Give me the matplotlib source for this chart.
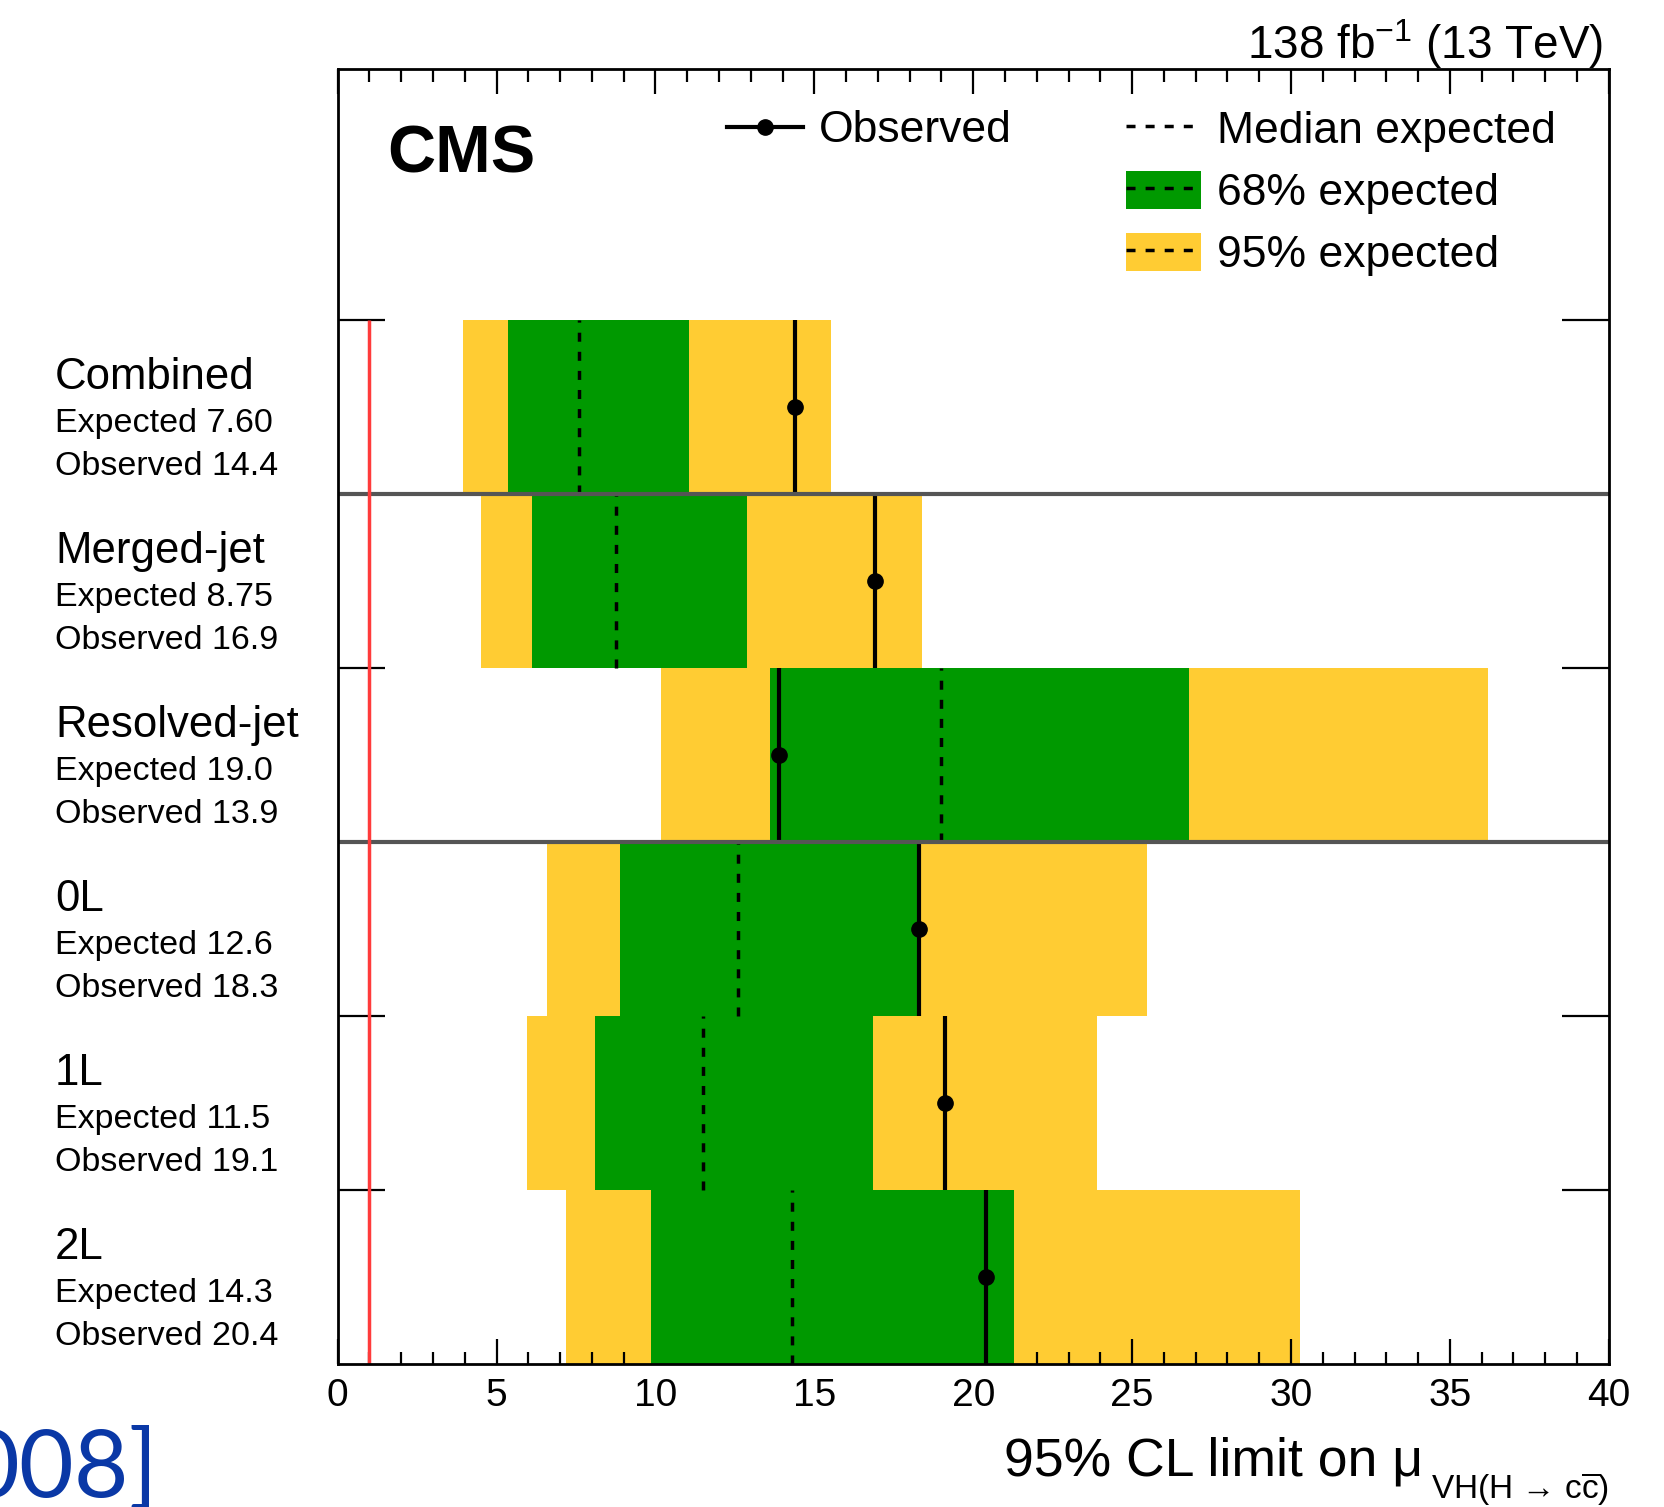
import matplotlib
matplotlib.use("Agg")
import matplotlib.pyplot as plt
from matplotlib.lines import Line2D
from matplotlib.patches import Patch
from matplotlib.ticker import MultipleLocator
from matplotlib.transforms import blended_transform_factory

plt.rcParams["font.family"] = ["Liberation Sans", "DejaVu Sans"]
plt.rcParams["mathtext.fontset"] = "custom"
plt.rcParams["mathtext.rm"] = "Liberation Sans"
plt.rcParams["mathtext.it"] = "Liberation Sans:italic"

# channels, top to bottom
channels = ["Combined", "Merged-jet", "Resolved-jet", "0L", "1L", "2L"]
expected = [7.60, 8.75, 19.0, 12.6, 11.5, 14.3]
observed = [14.4, 16.9, 13.9, 18.3, 19.1, 20.4]
lo95 = [3.94, 4.51, 10.16, 6.58, 5.95, 7.18]
lo68 = [5.35, 6.12, 13.60, 8.89, 8.09, 9.86]
hi68 = [11.06, 12.87, 26.8, 18.28, 16.84, 21.29]
hi95 = [15.54, 18.38, 36.2, 25.46, 23.9, 30.28]
separators = [5, 3]

GREEN = "#009900"
YELLOW = "#ffcc33"
dash = (0, (2.6, 2.9))


def fmt(v):
    return f"{v:.2f}" if v < 10 else f"{v:.1f}"


fig = plt.figure(figsize=(16.65, 15.07), dpi=100)
ax = fig.add_axes([0.2028, 0.0946, 0.7634, 0.8596])
tf = blended_transform_factory(fig.transFigure, ax.transData)

n = len(channels)
for i, name in enumerate(channels):
    y0 = n - 1 - i
    yc = y0 + 0.5
    ax.barh(yc, hi95[i] - lo95[i], left=lo95[i], height=1.0, color=YELLOW, lw=0, zorder=1)
    ax.barh(yc, hi68[i] - lo68[i], left=lo68[i], height=1.0, color=GREEN, lw=0, zorder=2)
    ax.vlines(expected[i], y0, y0 + 1, colors="k", linestyles=dash, lw=2.5, zorder=3)
    ax.vlines(observed[i], y0, y0 + 1, colors="k", lw=3, zorder=4)
    ax.plot(observed[i], yc, "o", color="k", ms=11, zorder=5)

    fig.text(0.033, y0 + 1 - 0.33, name, transform=tf, fontsize=31.5, va="center")
    fig.text(0.033, y0 + 1 - 0.59, f"Expected {fmt(expected[i])}", transform=tf,
             fontsize=24.5, va="center")
    fig.text(0.033, y0 + 1 - 0.84, f"Observed {fmt(observed[i])}", transform=tf,
             fontsize=24.5, va="center")

for s in separators:
    ax.axhline(s, color="#555555", lw=3, zorder=6)

ax.vlines(1, 0, n, colors="#ff3b3b", lw=2.5, zorder=7)

ax.set_xlim(0, 40)
ax.set_ylim(0, 7.445)
ax.xaxis.set_major_locator(MultipleLocator(5))
ax.xaxis.set_minor_locator(MultipleLocator(1))
ax.set_yticks(range(1, n + 1))
ax.set_yticklabels([])
ax.tick_params(axis="x", which="major", direction="in", top=True, length=18, width=1.6,
               labelsize=28, pad=10)
ax.tick_params(axis="x", which="minor", direction="in", top=True, length=9, width=1.6)
ax.tick_params(axis="y", which="major", direction="in", right=True, length=34, width=1.6)
for sp in ax.spines.values():
    sp.set_linewidth(2)
    sp.set_zorder(10)

ax.text(0.039, 0.933, "CMS", transform=ax.transAxes, fontsize=48, fontweight="bold",
        va="center", ha="left")
ax.text(0.996, 1.008, r"138 fb$^{\mathregular{-1}}$ (13 TeV)", transform=ax.transAxes,
        fontsize=33, ha="right", va="baseline")

# x axis title, with the subscript set a little lower
fig.text(0.8547, 0.0206, "95% CL limit on μ", fontsize=38.5, ha="right", va="baseline")
fig.text(0.9663, 0.0053, r"VH(H → c$\overline{\mathrm{c}}$)", fontsize=24,
         ha="right", va="baseline")

fig.text(0.0946, 0.0065, "008]", fontsize=68, color="#0a38a6", ha="right", va="baseline",
         family=["Lato", "DejaVu Sans"])

obs_handle = Line2D([], [], color="k", lw=3, marker="o", ms=11)
med_handle = Line2D([], [], color="k", lw=2.5, linestyle=dash)
leg1 = ax.legend([obs_handle], ["Observed"], loc="upper left", bbox_to_anchor=(0.3063, 0.968),
                 frameon=False, fontsize=32, handlelength=1.7, handletextpad=0.36,
                 borderpad=0, borderaxespad=0)
ax.add_artist(leg1)
ax.legend([med_handle,
           (Patch(color=GREEN, lw=0), med_handle),
           (Patch(color=YELLOW, lw=0), med_handle)],
          ["Median expected", "68% expected", "95% expected"],
          loc="upper left", bbox_to_anchor=(0.6199, 0.9695), frameon=False, fontsize=32,
          handlelength=1.7, handletextpad=0.36, handleheight=0.95, labelspacing=0.42,
          borderpad=0, borderaxespad=0)

fig.savefig("out.png", dpi=100)
